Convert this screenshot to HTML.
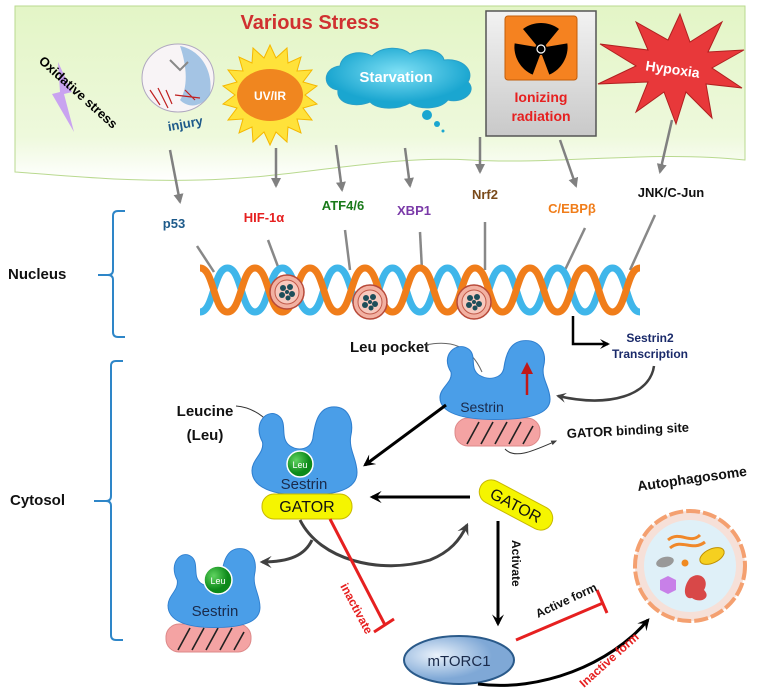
<!DOCTYPE html>
<html><head><meta charset="utf-8"><style>
html,body{margin:0;padding:0;background:#fff;}
svg{display:block;font-family:"Liberation Sans",sans-serif;font-weight:bold;}
</style></head><body>
<svg width="759" height="691" viewBox="0 0 759 691" xmlns="http://www.w3.org/2000/svg">
<defs>
<linearGradient id="gp" x1="0" y1="0" x2="0" y2="1"><stop offset="0" stop-color="#e3f5c6"/><stop offset="0.75" stop-color="#eef9dc"/><stop offset="1" stop-color="#ffffff"/></linearGradient>
<linearGradient id="gb" x1="0" y1="0" x2="0" y2="1"><stop offset="0" stop-color="#f2f2f2"/><stop offset="1" stop-color="#c9c9c9"/></linearGradient>
<radialGradient id="gm" cx="0.3" cy="0.4"><stop offset="0" stop-color="#eaf2fb"/><stop offset="1" stop-color="#7fa8d6"/></radialGradient>
<radialGradient id="gc" cx="0.5" cy="0.4"><stop offset="0" stop-color="#7fe0f5"/><stop offset="1" stop-color="#1aa6d0"/></radialGradient>
<radialGradient id="gl" cx="0.35" cy="0.35"><stop offset="0" stop-color="#5fd35f"/><stop offset="1" stop-color="#0d8a1a"/></radialGradient>
<marker id="ag" viewBox="0 0 10 10" refX="8" refY="5" markerWidth="4" markerHeight="4" orient="auto"><path d="M0,0L10,5L0,10z" fill="#808080"/></marker>
<marker id="ak" viewBox="0 0 10 10" refX="8" refY="5" markerWidth="4" markerHeight="4" orient="auto"><path d="M0,0L10,5L0,10L4,5z" fill="#000"/></marker>
<marker id="ad" viewBox="0 0 10 10" refX="8" refY="5" markerWidth="4" markerHeight="4" orient="auto"><path d="M0,0L10,5L0,10L4,5z" fill="#404040"/></marker>
<marker id="at" viewBox="0 0 10 10" refX="8" refY="5" markerWidth="6" markerHeight="6" orient="auto"><path d="M0,1L10,5L0,9z" fill="#404040"/></marker>
<g id="ses"><path d="M10,40 C0,20 15,3 26,13 C34,21 26,36 36,44 C44,50 56,48 58,36 C60,18 64,3 78,3 C93,3 97,20 94,34 C92,48 100,58 100,72 C100,90 80,96 50,96 C20,96 0,88 0,70 C0,58 12,52 10,40 Z" fill="#4a9ee8" stroke="#2f7fcf" stroke-width="1"/></g>
<g id="pill"><rect x="0" y="0" width="85" height="28" rx="13" fill="#f4a3a3" stroke="#d88" stroke-width="1"/><path d="M12,26 L24,4 M26,26 L38,4 M40,26 L52,4 M54,26 L66,4 M68,26 L78,8" stroke="#222" stroke-width="1.6"/></g>
<g id="nuc"><circle r="17" fill="#f2b1a2" stroke="#b84a3a" stroke-width="1.5"/><circle r="12" fill="#f7c9be" stroke="#c05a4a" stroke-width="1"/><g fill="#1d4e5a"><circle cx="-4" cy="-4" r="3"/><circle cx="3" cy="-5" r="3"/><circle cx="5" cy="2" r="3"/><circle cx="-5" cy="3" r="3"/><circle cx="1" cy="6" r="2.5"/><circle cx="0" cy="0" r="2"/></g></g>
</defs>

<path d="M15,6 L745,6 L745,160 C650,150 560,165 470,160 C380,155 300,178 200,180 C120,182 60,175 15,172 Z" fill="url(#gp)" stroke="#b9d98f" stroke-width="1"/>
<text x="310" y="29" font-size="20" fill="#d03030" text-anchor="middle">Various Stress</text>

<path d="M58,62 L72,92 L64,94 L74,132 L52,94 L60,92 Z" fill="#c9a3f0"/>
<text x="38" y="62" font-size="13" fill="#000" transform="rotate(42 38 62)">Oxidative stress</text>

<!-- brain -->
<ellipse cx="178" cy="78" rx="36" ry="34" fill="#f8f4f6" stroke="#b0a8c0"/>
<path d="M180,46 C200,50 214,70 210,95 C200,108 188,108 180,100 C190,85 185,60 180,46 Z" fill="#8fb8e0" opacity="0.8"/>
<path d="M150,90 L160,105 M158,88 L168,108 M166,90 L172,104 M185,90 L195,100 M175,95 L200,98" stroke="#c02020" stroke-width="1.2"/>
<path d="M170,60 L180,70 L188,62" stroke="#888" stroke-width="2" fill="none"/>
<text x="186" y="128" font-size="13" fill="#1e5a8a" text-anchor="middle" transform="rotate(-10 186 128)">injury</text>

<polygon points="270,45 276,58 287,48 288,63 301,57 297,71 312,70 303,82 317,86 305,95 317,104 303,108 312,120 297,119 301,133 288,127 287,142 276,132 270,145 264,132 253,142 252,127 239,133 243,119 228,120 237,108 223,104 235,95 223,86 237,82 228,70 243,71 239,57 252,63 253,48 264,58" fill="#ffe23a" stroke="#f5b800" stroke-width="1"/>
<ellipse cx="270" cy="95" rx="33" ry="26" fill="#f0861f"/>
<text x="270" y="100" font-size="12" fill="#fff" text-anchor="middle">UV/IR</text>

<path d="M338,90 C322,88 322,68 340,66 C342,52 362,50 372,56 C382,46 402,46 410,54 C422,46 442,50 444,60 C462,58 475,70 468,82 C478,92 462,104 448,100 C440,110 418,110 410,103 C398,110 378,110 370,102 C356,108 336,104 338,90 Z" fill="url(#gc)" stroke="#2aa0c8"/>
<text x="396" y="82" font-size="15" fill="#fff" text-anchor="middle">Starvation</text>
<circle cx="427" cy="115" r="5" fill="#1aa6d0"/><circle cx="437" cy="124" r="3" fill="#1aa6d0"/><circle cx="443" cy="131" r="1.5" fill="#1aa6d0"/>

<rect x="486" y="11" width="110" height="125" fill="url(#gb)" stroke="#555" stroke-width="1.5"/>
<rect x="505" y="16" width="72" height="64" rx="3" fill="#f58220" stroke="#c25d0a"/>
<g transform="translate(541,49)" fill="#000"><path d="M-4,-3 L-18,-20 C-8,-28 8,-28 18,-20 L4,-3 Z"/><path d="M-4,-3 L-18,-20 C-8,-28 8,-28 18,-20 L4,-3 Z" transform="rotate(120)"/><path d="M-4,-3 L-18,-20 C-8,-28 8,-28 18,-20 L4,-3 Z" transform="rotate(240)"/><circle r="6"/><circle r="4" fill="none" stroke="#fff" stroke-width="1.2"/></g>
<text x="541" y="102" font-size="14" fill="#e62020" text-anchor="middle">Ionizing</text>
<text x="541" y="121" font-size="14" fill="#e62020" text-anchor="middle">radiation</text>

<polygon points="680,14 690,42 722,22 708,52 744,50 712,68 742,88 706,84 712,118 686,92 676,124 664,92 636,112 648,82 598,84 636,66 600,44 648,50 636,22 668,40" fill="#e8383a" stroke="#b02020"/>
<text x="672" y="74" font-size="14" fill="#fff" text-anchor="middle" transform="rotate(8 672 74)">Hypoxia</text>

<g stroke="#808080" stroke-width="2.5" fill="none" marker-end="url(#ag)">
<line x1="170" y1="150" x2="180" y2="202"/>
<line x1="276" y1="148" x2="276" y2="186"/>
<line x1="336" y1="145" x2="342" y2="190"/>
<line x1="405" y1="148" x2="410" y2="186"/>
<line x1="480" y1="137" x2="480" y2="172"/>
<line x1="560" y1="140" x2="576" y2="186"/>
<line x1="672" y1="120" x2="660" y2="172"/>
</g>

<g font-size="13" text-anchor="middle">
<text x="174" y="228" fill="#1d5a8a">p53</text>
<text x="264" y="222" fill="#e62020">HIF-1α</text>
<text x="343" y="210" fill="#1a7a1a">ATF4/6</text>
<text x="414" y="215" fill="#7a3aa8">XBP1</text>
<text x="485" y="199" fill="#7a4a1a">Nrf2</text>
<text x="572" y="213" fill="#f07d1a">C/EBPβ</text>
<text x="671" y="197" fill="#111">JNK/C-Jun</text>
</g>
<g stroke="#888" stroke-width="2.5">
<line x1="197" y1="246" x2="214" y2="272"/>
<line x1="268" y1="240" x2="280" y2="272"/>
<line x1="345" y1="230" x2="350" y2="270"/>
<line x1="420" y1="232" x2="422" y2="270"/>
<line x1="485" y1="222" x2="485" y2="270"/>
<line x1="585" y1="228" x2="565" y2="270"/>
<line x1="655" y1="215" x2="630" y2="270"/>
</g>

<path d="M200,312 C214,312 213.5,268 227.5,268 S241,312 255,312 S268.5,268 282.5,268 S296,312 310,312 S323.5,268 337.5,268 S351,312 365,312 S378.5,268 392.5,268 S406,312 420,312 S433.5,268 447.5,268 S461,312 475,312 S488.5,268 502.5,268 S516,312 530,312 S543.5,268 557.5,268 S571,312 585,312 S598.5,268 612.5,268 S626,312 640,312" fill="none" stroke="#3fb6ea" stroke-width="7"/>
<path d="M200,268 C214,268 213.5,312 227.5,312 S241,268 255,268 S268.5,312 282.5,312 S296,268 310,268 S323.5,312 337.5,312 S351,268 365,268 S378.5,312 392.5,312 S406,268 420,268 S433.5,312 447.5,312 S461,268 475,268 S488.5,312 502.5,312 S516,268 530,268 S543.5,312 557.5,312 S571,268 585,268 S598.5,312 612.5,312 S626,268 640,268" fill="none" stroke="#f07d1a" stroke-width="7"/>
<use href="#nuc" x="287" y="292"/>
<use href="#nuc" x="370" y="302"/>
<use href="#nuc" x="474" y="302"/>

<g fill="none" stroke="#2e86c8" stroke-width="2">
<path d="M125,211 L118,211 Q113,211 113,216 L113,270 Q113,275 108,275 Q113,275 113,280 L113,332 Q113,337 118,337 L125,337"/>
<path d="M123,361 L116,361 Q111,361 111,366 L111,496 Q111,501 106,501 Q111,501 111,506 L111,635 Q111,640 116,640 L123,640"/>
<line x1="98" y1="275" x2="108" y2="275"/><line x1="94" y1="501" x2="106" y2="501"/>
</g>
<text x="8" y="279" font-size="15" fill="#111">Nucleus</text>
<text x="10" y="505" font-size="15" fill="#111">Cytosol</text>

<path d="M573,316 L573,344 L608,344" fill="none" stroke="#000" stroke-width="2.5" marker-end="url(#ak)"/>
<text x="650" y="342" font-size="12" fill="#1a2a6a" text-anchor="middle">Sestrin2</text>
<text x="650" y="358" font-size="12" fill="#1a2a6a" text-anchor="middle">Transcription</text>
<path d="M654,366 C650,395 610,408 558,396" fill="none" stroke="#404040" stroke-width="2.5" marker-end="url(#ad)"/>

<text x="350" y="352" font-size="15" fill="#111">Leu pocket</text>
<path d="M426,345 C450,340 470,345 482,372" fill="none" stroke="#666" stroke-width="1"/>
<g transform="translate(455,418)"><use href="#pill"/></g>
<g transform="translate(440,338) scale(1.1,0.85)"><use href="#ses"/></g>
<text x="482" y="412" font-size="14" fill="#1a2a4a" font-weight="normal" text-anchor="middle">Sestrin</text>
<line x1="527" y1="395" x2="527" y2="372" stroke="#c01818" stroke-width="2.5"/>
<path d="M521,374 L527,362 L533,374 Z" fill="#c01818"/>
<path d="M505,449 C515,460 535,450 556,441" fill="none" stroke="#333" stroke-width="1" marker-end="url(#at)"/>
<text x="567" y="438" font-size="13" fill="#111" transform="rotate(-3 567 438)">GATOR binding site</text>

<text x="205" y="416" font-size="15" fill="#111" text-anchor="middle">Leucine</text>
<text x="205" y="440" font-size="15" fill="#111" text-anchor="middle">(Leu)</text>
<path d="M236,406 C262,408 282,432 288,458" fill="none" stroke="#333" stroke-width="1" marker-end="url(#at)"/>

<g transform="translate(252,404) scale(1.05,0.95)"><use href="#ses"/></g>
<circle cx="300" cy="464" r="13" fill="url(#gl)" stroke="#fff" stroke-width="1.5"/>
<text x="300" y="468" font-size="9" fill="#fff" font-weight="normal" text-anchor="middle">Leu</text>
<text x="304" y="489" font-size="15" fill="#1a2a4a" font-weight="normal" text-anchor="middle">Sestrin</text>
<rect x="262" y="494" width="90" height="25" rx="12" fill="#f5f500" stroke="#c8b800"/>
<text x="307" y="512" font-size="16" fill="#111" font-weight="normal" text-anchor="middle">GATOR</text>

<line x1="446" y1="405" x2="365" y2="465" stroke="#000" stroke-width="3" marker-end="url(#ak)"/>
<line x1="470" y1="497" x2="372" y2="497" stroke="#000" stroke-width="3" marker-end="url(#ak)"/>

<g transform="translate(516,505) rotate(28)"><rect x="-40" y="-12" width="80" height="24" rx="12" fill="#f5f500" stroke="#c8b800"/><text x="0" y="6" font-size="16" fill="#111" font-weight="normal" text-anchor="middle">GATOR</text></g>

<path d="M300,520 C320,560 380,575 430,560 C450,552 460,540 467,525" fill="none" stroke="#404040" stroke-width="3" marker-end="url(#ad)"/>
<path d="M312,540 C305,555 290,562 262,562" fill="none" stroke="#404040" stroke-width="3" marker-end="url(#ad)"/>

<g transform="translate(166,624)"><use href="#pill"/></g>
<g transform="translate(168,546) scale(0.92,0.85)"><use href="#ses"/></g>
<circle cx="218" cy="580" r="14" fill="url(#gl)" stroke="#fff" stroke-width="1.5"/>
<text x="218" y="584" font-size="9" fill="#fff" font-weight="normal" text-anchor="middle">Leu</text>
<text x="215" y="616" font-size="15" fill="#1a2a4a" font-weight="normal" text-anchor="middle">Sestrin</text>

<line x1="330" y1="519" x2="385" y2="625" stroke="#e62020" stroke-width="3"/>
<line x1="374" y1="632" x2="394" y2="619" stroke="#e62020" stroke-width="3"/>
<text x="340" y="586" font-size="12" fill="#e62020" transform="rotate(62 340 586)">inactivate</text>

<line x1="498" y1="521" x2="498" y2="624" stroke="#000" stroke-width="3" marker-end="url(#ak)"/>
<text x="512" y="540" font-size="12" fill="#111" transform="rotate(90 512 540)">Activate</text>

<ellipse cx="459" cy="660" rx="55" ry="24" fill="url(#gm)" stroke="#2a5a8a" stroke-width="2"/>
<text x="459" y="666" font-size="15" fill="#1a2a4a" font-weight="normal" text-anchor="middle">mTORC1</text>

<line x1="516" y1="640" x2="603" y2="603" stroke="#e62020" stroke-width="3"/>
<line x1="597" y1="590" x2="607" y2="613" stroke="#e62020" stroke-width="3"/>
<text x="538" y="618" font-size="12" fill="#111" transform="rotate(-25 538 618)">Active form</text>
<path d="M478,684 C540,692 610,665 648,620" fill="none" stroke="#000" stroke-width="3" marker-end="url(#ak)"/>
<text x="584" y="688" font-size="12" fill="#e62020" transform="rotate(-42 584 688)">Inactive form</text>

<text x="638" y="491" font-size="14" fill="#111" transform="rotate(-8 638 491)">Autophagosome</text>
<circle cx="690" cy="566" r="55" fill="#f6e0d8" stroke="#f4a070" stroke-width="4" stroke-dasharray="14 3"/>
<circle cx="690" cy="566" r="46" fill="#dff0f8"/>
<path d="M668,540 C680,530 690,545 700,535 M670,548 C682,538 692,552 705,542" fill="none" stroke="#f0882a" stroke-width="3"/>
<ellipse cx="712" cy="556" rx="13" ry="7" fill="#f5d020" stroke="#c09000" transform="rotate(-25 712 556)"/>
<ellipse cx="665" cy="562" rx="9" ry="5" fill="#999" transform="rotate(-15 665 562)"/>
<circle cx="685" cy="563" r="3.5" fill="#f08a20"/>
<polygon points="660,580 668,576 676,580 676,590 668,594 660,590" fill="#c880e8"/>
<path d="M690,578 C700,570 710,580 704,590 C712,598 700,604 692,598 C684,600 682,588 690,578 Z" fill="#d84848"/>
</svg>
</body></html>
